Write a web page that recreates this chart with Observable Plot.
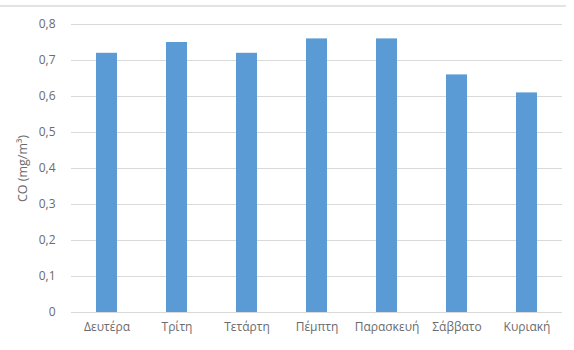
<!DOCTYPE html>
<html>
<head>
<meta charset="utf-8">
<script src="https://cdn.jsdelivr.net/npm/d3@7"></script>
<script src="https://cdn.jsdelivr.net/npm/@observablehq/plot@0.6"></script>
<style>
  html, body { margin: 0; padding: 0; background: #fff; }
  #wrap { position: relative; width: 574px; height: 350px; }
  #topline { position: absolute; left: 0; top: 5px; width: 566px; height: 2px; background: #e3e3e3; }
</style>
</head>
<body>
<div id="wrap"><div id="topline"></div></div>
<script>
const days = ["Δευτέρα", "Τρίτη", "Τετάρτη", "Πέμπτη", "Παρασκευή", "Σάββατο", "Κυριακή"];
const coValues = [0.72, 0.75, 0.72, 0.76, 0.76, 0.66, 0.61];
const yTicks = [0, 0.1, 0.2, 0.3, 0.4, 0.5, 0.6, 0.7, 0.8];
const yLabel = "CO (mg/m³)";

const data = days.map((d, i) => ({day: d, value: coValues[i]}));
const fmt = v => v === 0 ? "0" : v.toFixed(1).replace(".", ",");

const chart = Plot.plot({
  width: 574,
  height: 350,
  marginLeft: 71,
  marginRight: 12,
  marginTop: 24,
  marginBottom: 38,
  style: {fontFamily: "Open Sans, sans-serif", fontSize: "12px", color: "#6b6b6b", background: "transparent"},
  x: {domain: days, label: null, paddingInner: 0.7, paddingOuter: 0.35, tickSize: 0, tickPadding: 10},
  y: {domain: [0, 0.8], ticks: yTicks, tickFormat: fmt, label: null, tickSize: 0, tickPadding: 16},
  marks: [
    Plot.gridY(yTicks.filter(t => t > 0), {stroke: "#d9d9d9", strokeOpacity: 1, strokeWidth: 1}),
    Plot.ruleY([0], {stroke: "#d9d9d9", strokeWidth: 1}),
    Plot.barY(data, {x: "day", y: "value", fill: "#5b9bd5"}),
    Plot.axisX({tickSize: 0, tickPadding: 10, label: null, fontSize: 12}),
    Plot.axisY({ticks: yTicks, tickFormat: fmt, tickSize: 0, tickPadding: 16, label: null, fontSize: 12}),
    Plot.text([yLabel], {frameAnchor: "left", textAnchor: "middle", dx: -49, rotate: -90, fontSize: 12.5, fill: "#6b6b6b"})
  ]
});
chart.style.position = "absolute";
chart.style.left = "0";
chart.style.top = "0";
document.getElementById("wrap").appendChild(chart);
</script>
</body>
</html>
